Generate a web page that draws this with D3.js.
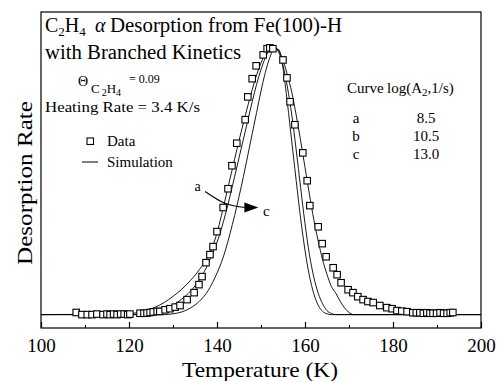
<!DOCTYPE html>
<html><head><meta charset="utf-8">
<script src="https://cdn.jsdelivr.net/npm/d3@7"></script>
<style>html,body{margin:0;padding:0;background:#fff;}svg{display:block;} text{font-family:'Liberation Serif','Times New Roman',serif;}</style>
</head><body>
<script>
// ---- data ----
const dataT = [108.0,109.3,110.5,111.6,112.7,114.1,115.0,115.7,116.5,117.3,118.1,118.9,119.7,120.2,122.5,123.4,124.1,124.8,125.5,126.4,127.0,128.2,129.3,130.5,131.6,133.2,134.8,135.9,136.6,137.5,138.4,139.1,140.0,141.4,142.5,143.4,144.5,146.4,147.0,148.0,148.9,150.5,151.4,152.0,152.7,155.0,155.9,156.6,157.7,159.5,160.5,161.1,163.0,163.9,164.8,166.4,167.3,168.2,169.8,170.9,172.0,173.2,174.3,175.5,177.0,178.6,179.8,180.9,182.0,183.2,184.5,185.3,186.1,186.9,187.7,188.4,189.1,189.9,190.7,191.5,192.3,193.0,193.6];
const dataR = [0.008,0.0,0.0,0.0,0.002,0.0,0.002,0.0,0.002,0.0,0.002,0.002,0.0,0.002,0.005,0.005,0.006,0.008,0.01,0.012,0.012,0.018,0.022,0.028,0.034,0.056,0.082,0.112,0.142,0.194,0.224,0.254,0.31,0.40,0.47,0.556,0.64,0.728,0.813,0.881,0.929,0.97,0.993,0.996,0.993,0.951,0.884,0.795,0.709,0.604,0.50,0.407,0.328,0.265,0.216,0.175,0.149,0.119,0.093,0.082,0.067,0.056,0.049,0.045,0.034,0.026,0.022,0.015,0.013,0.011,0.007,0.007,0.007,0.005,0.007,0.005,0.005,0.005,0.007,0.005,0.005,0.007,0.008];

const simT  = [100,120,122,124,126,128,130,132,134,136,138,139,140,141,142,143,144,145,146,147,148,149,150,151,152,153,154,155,156,157,158,159,160,161,162,163,164,165,166,167,168,169,170,171,175,200];
const simA  = [0,0.003,0.008,0.016,0.028,0.045,0.068,0.095,0.128,0.168,0.22,0.255,0.305,0.37,0.44,0.51,0.58,0.65,0.715,0.78,0.84,0.895,0.94,0.975,0.995,1.0,0.985,0.95,0.895,0.83,0.745,0.65,0.55,0.45,0.355,0.275,0.205,0.15,0.105,0.08,0.05,0.025,0.008,0,0,0];
const simB  = [0,0,0.001,0.004,0.01,0.02,0.035,0.058,0.088,0.13,0.19,0.23,0.27,0.32,0.38,0.445,0.515,0.585,0.655,0.725,0.795,0.86,0.915,0.96,0.99,1.0,0.98,0.93,0.85,0.745,0.615,0.475,0.34,0.225,0.14,0.08,0.04,0.015,0.004,0,0,0,0,0,0,0];
const simC  = [0,0,0,0,0,0,0.003,0.01,0.025,0.05,0.09,0.12,0.155,0.195,0.245,0.305,0.37,0.44,0.515,0.595,0.675,0.755,0.835,0.905,0.96,0.99,0.99,0.92,0.79,0.645,0.5,0.36,0.24,0.145,0.078,0.035,0.012,0.003,0,0,0,0,0,0,0,0];

const xTicks = [100,120,140,160,180,200];
const xMinor = [110,130,150,170,190];
const curveNames = ["a","b","c"];
const curveLogA = ["8.5","10.5","13.0"];

// ---- layout ----
const W = 497, H = 381;
const svg = d3.select("body").append("svg").attr("width", W).attr("height", H);

const x = d3.scaleLinear().domain([100, 200]).range([41, 481]);
const y = d3.scaleLinear().domain([-0.05, 1.13]).range([328, 12]);

// frame
svg.append("rect").attr("x", 41).attr("y", 12).attr("width", 440).attr("height", 316)
  .attr("fill", "none").attr("stroke", "#000").attr("stroke-width", 1.2);

// x axis
const ax = svg.append("g").attr("transform", "translate(0,328)")
  .call(d3.axisBottom(x).tickValues(xTicks).tickSize(-6).tickPadding(11).tickFormat(d3.format("d")));
ax.attr("font-family", null).attr("font-size", null);
ax.select(".domain").remove();
ax.selectAll("line").attr("stroke", "#000").attr("stroke-width", 1.2);
ax.selectAll("text").attr("font-size", 19).attr("fill", "#000");
const axm = svg.append("g").attr("transform", "translate(0,328)")
  .call(d3.axisBottom(x).tickValues(xMinor).tickSize(-3).tickFormat(""));
axm.select(".domain").remove();
axm.selectAll("line").attr("stroke", "#000").attr("stroke-width", 1.1);

// axis titles
svg.append("text").attr("x", 260).attr("y", 377).attr("text-anchor", "middle")
  .attr("font-size", 22).attr("textLength", 156).attr("lengthAdjust", "spacingAndGlyphs").text("Temperature (K)");
svg.append("text").attr("transform", "translate(32,183) rotate(-90)").attr("text-anchor", "middle")
  .attr("font-size", 22).attr("textLength", 164).attr("lengthAdjust", "spacingAndGlyphs").text("Desorption Rate");

// simulation curves
const sims = [simA, simB, simC];
const line = d3.line().x(d => x(d[0])).y(d => y(d[1])).curve(d3.curveMonotoneX);
sims.forEach(s => {
  svg.append("path").datum(simT.map((t, i) => [t, s[i]]))
    .attr("d", line).attr("fill", "none").attr("stroke", "#000").attr("stroke-width", 0.9);
});

// data squares
const sq = 6.5;
svg.append("g").selectAll("rect").data(dataT.map((t, i) => [t, dataR[i]])).join("rect")
  .attr("x", d => x(d[0]) - sq / 2).attr("y", d => y(d[1]) - sq / 2)
  .attr("width", sq).attr("height", sq)
  .attr("fill", "#fff").attr("stroke", "#000").attr("stroke-width", 1.1);

// title
const t1 = svg.append("text").attr("x", 45).attr("y", 32).attr("font-size", 20);
t1.append("tspan").text("C");
t1.append("tspan").attr("font-size", 13).attr("dy", 4).text("2");
t1.append("tspan").attr("dy", -4).text("H");
t1.append("tspan").attr("font-size", 13).attr("dy", 4).text("4");
t1.append("tspan").attr("dy", -4).attr("x", 95).attr("font-style", "italic").text("α");
svg.append("text").attr("x", 110).attr("y", 32).attr("font-size", 20)
  .attr("textLength", 232).attr("lengthAdjust", "spacingAndGlyphs").text("Desorption from Fe(100)-H");
svg.append("text").attr("x", 45).attr("y", 59).attr("font-size", 20)
  .attr("textLength", 196).attr("lengthAdjust", "spacingAndGlyphs").text("with Branched Kinetics");

// coverage
svg.append("text").attr("x", 78).attr("y", 86).attr("font-size", 14).text("Θ");
const cov = svg.append("text").attr("x", 91).attr("y", 93).attr("font-size", 13);
cov.append("tspan").text("C");
cov.append("tspan").attr("font-size", 10).attr("dx", 2).attr("dy", 3).text("2");
cov.append("tspan").attr("dy", -3).text("H");
cov.append("tspan").attr("font-size", 10).attr("dy", 3).text("4");
svg.append("text").attr("x", 129).attr("y", 83).attr("font-size", 12).text("= 0.09");

svg.append("text").attr("x", 45).attr("y", 112).attr("font-size", 15)
  .attr("textLength", 155).attr("lengthAdjust", "spacingAndGlyphs").text("Heating Rate = 3.4 K/s");

// legend
svg.append("rect").attr("x", 87).attr("y", 138).attr("width", sq).attr("height", sq)
  .attr("fill", "#fff").attr("stroke", "#000").attr("stroke-width", 1.1);
svg.append("text").attr("x", 107).attr("y", 146).attr("font-size", 15).text("Data");
svg.append("line").attr("x1", 82).attr("x2", 98).attr("y1", 162).attr("y2", 162)
  .attr("stroke", "#000").attr("stroke-width", 1);
svg.append("text").attr("x", 107).attr("y", 167).attr("font-size", 15).text("Simulation");

// curve table
const hd = svg.append("text").attr("x", 347).attr("y", 93).attr("font-size", 15);
hd.append("tspan").text("Curve");
hd.append("tspan").attr("x", 387).text("log(A");
hd.append("tspan").attr("font-size", 11).attr("dy", 3).text("2");
hd.append("tspan").attr("dy", -3).text(",1/s)");
curveNames.forEach((n, i) => {
  svg.append("text").attr("x", 356).attr("y", 123 + i * 18).attr("font-size", 15)
    .attr("text-anchor", "middle").text(n);
  svg.append("text").attr("x", 426).attr("y", 123 + i * 18).attr("font-size", 15)
    .attr("text-anchor", "middle").text(curveLogA[i]);
});

// arrow a -> c
const arrowPts = [[137.3, 0.46], [141.8, 0.416], [146.5, 0.40]];
svg.append("path").datum(arrowPts)
  .attr("d", d3.line().x(d => x(d[0])).y(d => y(d[1])).curve(d3.curveNatural))
  .attr("fill", "none").attr("stroke", "#000").attr("stroke-width", 1.1);
const tip = [149.4, 0.40];
svg.append("path")
  .attr("d", `M${x(tip[0])},${y(tip[1])} L${x(tip[0]) - 14},${y(tip[1]) - 5} L${x(tip[0]) - 14},${y(tip[1]) + 5} Z`)
  .attr("fill", "#000");
svg.append("text").attr("x", x(135.6)).attr("y", y(0.46)).attr("font-size", 14).attr("text-anchor", "middle").text("a");
svg.append("text").attr("x", x(151.2)).attr("y", y(0.37)).attr("font-size", 15).attr("text-anchor", "middle").text("c");
</script>
</body></html>
